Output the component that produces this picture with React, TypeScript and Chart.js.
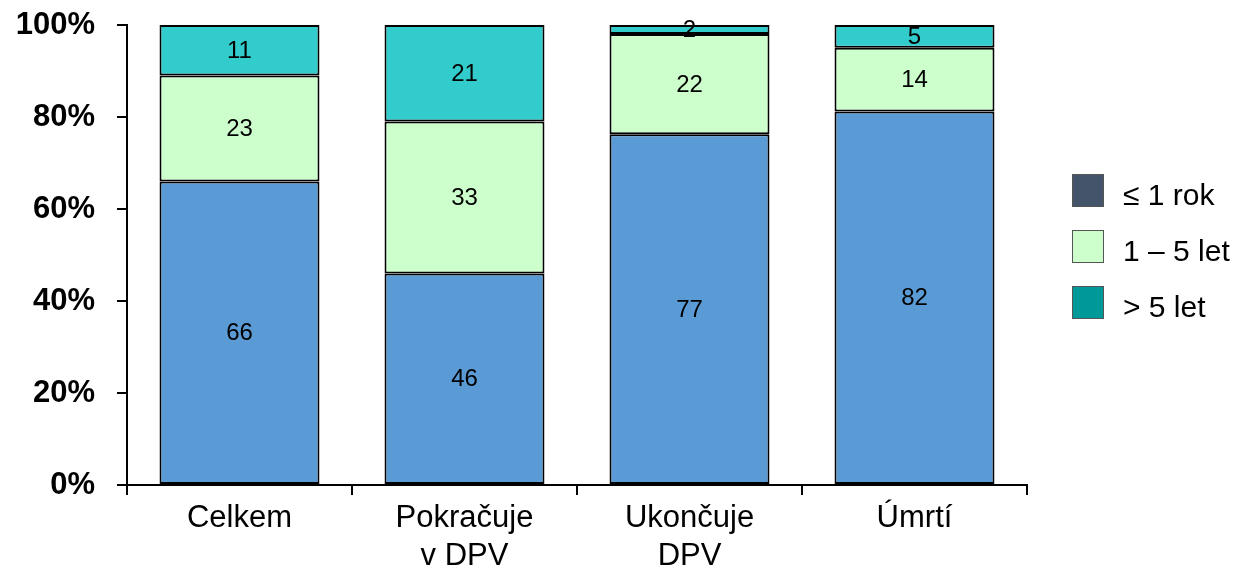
import React, { useEffect, useRef } from "react";
import { Chart, registerables } from "chart.js";

Chart.register(...registerables);

const categories: (string | string[])[] = ["Celkem", ["Pokračuje", "v DPV"], ["Ukončuje", "DPV"], "Úmrtí"];
const seriesNames = ["≤ 1 rok", "1 – 5 let", "> 5 let"];
const upTo1Year = [66, 46, 77, 82];
const from1To5Years = [23, 33, 22, 14];
const over5Years = [11, 21, 2, 5];
const barColors = ["#5B9BD5", "#CCFFCC", "#33CCCC"];
const legendColors = ["#44546A", "#CCFFCC", "#009999"];
const yTicks = [0, 20, 40, 60, 80, 100];

const FONT = "'Liberation Sans', Arial, sans-serif";

export default function App() {
  const ref = useRef<HTMLCanvasElement | null>(null);
  useEffect(() => {
    if (!ref.current) return;
    const raw = [upTo1Year, from1To5Years, over5Years];
    const totals = categories.map((_, i) => raw.reduce((s, arr) => s + arr[i], 0));
    const datasets = raw.map((arr, k) => ({
      label: seriesNames[k],
      data: arr.map((v, i) => (v / totals[i]) * 100),
      rawValues: arr,
      backgroundColor: barColors[k],
      borderColor: "#000",
      borderWidth: 2,
      borderSkipped: false,
      barPercentage: 0.711,
      categoryPercentage: 1,
    }));

    const labelPlugin = {
      id: "segLabels",
      afterDatasetsDraw(chart: any) {
        const ctx = chart.ctx;
        ctx.save();
        ctx.fillStyle = "#000";
        ctx.font = `24px ${FONT}`;
        ctx.textAlign = "center";
        ctx.textBaseline = "middle";
        chart.data.datasets.forEach((ds: any, k: number) => {
          const meta = chart.getDatasetMeta(k);
          meta.data.forEach((bar: any, i: number) => {
            const y = (bar.y + bar.base) / 2;
            ctx.fillText(String(ds.rawValues[i]), bar.x, y + 1);
          });
        });
        ctx.restore();
      },
    };

    const legendPlugin = {
      id: "customLegend",
      afterDraw(chart: any) {
        const ctx = chart.ctx;
        ctx.save();
        const x0 = 1072;
        const tops = [174, 230, 286];
        seriesNames.forEach((name, k) => {
          ctx.fillStyle = legendColors[k];
          ctx.fillRect(x0, tops[k], 32, 33);
          ctx.strokeStyle = "#555";
          ctx.lineWidth = 1;
          ctx.strokeRect(x0 + 0.5, tops[k] + 0.5, 31, 32);
          ctx.fillStyle = "#000";
          ctx.font = `30px ${FONT}`;
          ctx.textAlign = "left";
          ctx.textBaseline = "alphabetic";
          ctx.fillText(name, 1123, tops[k] + 31);
        });
        ctx.restore();
      },
    };

    const chart = new Chart(ref.current, {
      type: "bar",
      data: { labels: categories as any, datasets: datasets as any },
      options: {
        animation: false,
        responsive: false,
        maintainAspectRatio: false,
        layout: { padding: { top: 25, right: 216, left: 0, bottom: 0 } },
        plugins: { legend: { display: false }, tooltip: { enabled: false } },
        scales: {
          x: {
            stacked: true,
            offset: true,
            grid: {
              offset: true,
              drawOnChartArea: false,
              drawTicks: true,
              tickLength: 10,
              color: "#000",
              lineWidth: 2,
            },
            border: { display: true, color: "#000", width: 2 },
            ticks: {
              color: "#000",
              font: { family: FONT, size: 31, lineHeight: 1.22 },
              padding: 5,
              maxRotation: 0,
              autoSkip: false,
            },
            afterFit: (s: any) => {
              s.height = 82;
              s.paddingLeft = 0;
              s.paddingRight = 0;
            },
          },
          y: {
            stacked: true,
            min: 0,
            max: 100,
            afterBuildTicks: (s: any) => {
              s.ticks = yTicks.map((v) => ({ value: v }));
            },
            grid: {
              drawOnChartArea: false,
              drawTicks: true,
              tickLength: 10,
              color: "#000",
              lineWidth: 2,
            },
            border: { display: true, color: "#000", width: 2 },
            ticks: {
              color: "#000",
              font: { family: FONT, size: 31, weight: "bold" },
              padding: 22,
              callback: (v: any) => `${v}%`,
            },
            afterFit: (s: any) => {
              s.width = 127;
              s.paddingTop = 0;
              s.paddingBottom = 0;
            },
          },
        },
      },
      plugins: [labelPlugin, legendPlugin],
    });
    return () => chart.destroy();
  }, []);
  return (
    <div style={{ position: "fixed", left: 0, top: 0, width: 1243, height: 567, background: "#fff" }}>
      <canvas ref={ref} width={1243} height={567} style={{ width: 1243, height: 567, display: "block" }} />
    </div>
  );
}
